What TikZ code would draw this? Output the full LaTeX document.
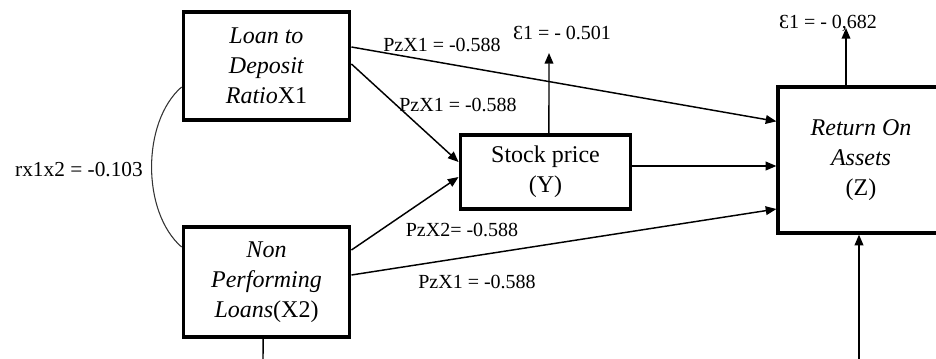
\documentclass[tikz,border=0pt]{standalone}
\usepackage{fontspec}
\setmainfont{Liberation Serif}
\usetikzlibrary{arrows.meta}
\tikzset{every picture/.style={line width=0.75pt}}

\begin{document}
\begin{tikzpicture}[x=0.75pt,y=0.75pt,yscale=-1,xscale=1,
	varbox/.style={draw,line width=2.4pt,align=center,inner sep=0pt,font=\fontsize{18}{22.5}\selectfont},
	effect/.style={line width=1.1pt,-{Triangle[length=8pt,width=6.5pt]}},
	coef/.style={font=\fontsize{15}{18}\selectfont,inner sep=0pt}]
	\useasboundingbox (0,0) rectangle (936,358);

	% Variables
	\node[varbox,minimum width=125pt,minimum height=81pt] (x1) at (266.5,66) {\textit{Loan to}\\\textit{Deposit}\\\textit{Ratio}X1};
	\node[varbox,minimum width=125pt,minimum height=82.5pt] (x2) at (266.5,282) {\textit{Non}\\\textit{Performing}\\\textit{Loans}(X2)};
	\node[varbox,minimum width=128pt,minimum height=55.5pt] (y) at (545.5,172) {Stock price\\(Y)};
	\node[varbox,minimum width=124.5pt,minimum height=109.5pt] (z) at (861,160) {\textit{Return On}\\\textit{Assets}\\(Z)};

	% Free ends
	\coordinate (ey) at (549,53);
	\coordinate (ez) at (846,28);
	\coordinate (zin) at (859,365);
	\coordinate (x2out) at (263,365);

	% Paths
	\draw[effect] ([yshift=-14.25pt]x1.east) -- ([yshift=-29pt]z.west);
	\draw[effect] ([yshift=-1.5pt]x1.east) -- ([yshift=-7.5pt]y.west);
	\draw[effect] ([yshift=-24pt]x2.east) -- ([yshift=3.75pt]y.west);
	\draw[effect] ([yshift=-5.25pt]x2.east) -- ([yshift=36.75pt]z.west);
	\draw[effect] ([yshift=-4.5pt]y.east) -- ([yshift=4.5pt]z.west);
	\draw[effect] ([xshift=2.6pt]y.north) -- (ey);
	\draw[effect] ([xshift=-11.25pt]z.north) -- (ez);
	\draw[effect] (zin) -- ([xshift=-1.5pt]z.south);
	\draw[line width=1.1pt] ([xshift=-2.6pt]x2.south) -- (x2out);

	% Correlation
	\draw[black!80,line width=0.8pt] ([yshift=15.75pt]x1.west) .. controls +(-40,35) and +(-40,-35) .. ([yshift=-26.25pt]x2.west);

	% Text Node
	\node[coef] (rx) at (79,170) {\fontsize{16}{18}\selectfont rx1x2 = -0.103};
	\node[coef] (p1) at (442,45) {PzX1 = -0.588};
	\node[coef] (p2) at (458,105) {PzX1 = -0.588};
	\node[coef] (p3) at (462,230) {PzX2= -0.588};
	\node[coef] (p4) at (477,282) {PzX1 = -0.588};
	\node[coef] (e1) at (562,33) {Ɛ1 = - 0.501};
	\node[coef] (e2) at (828,23) {Ɛ1 = - 0,682};
\end{tikzpicture}
\end{document}
